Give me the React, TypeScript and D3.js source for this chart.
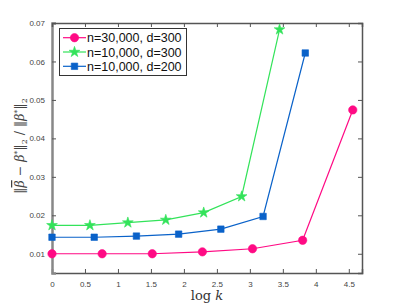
import React, { useEffect, useRef } from "react";
import * as d3 from "d3";

const seriesNames = ["n=30,000, d=300", "n=10,000, d=300", "n=10,000, d=200"];
const seriesColors = ["#ff0a84", "#33e35a", "#0a62c9"];
const seriesMarkers = ["circle", "star", "square"];

const xMagenta = [0, 0.76, 1.52, 2.28, 3.04, 3.8, 4.56];
const yMagenta = [0.01, 0.01, 0.01, 0.0105, 0.0113, 0.0135, 0.0474];
const xGreen = [0, 0.575, 1.15, 1.725, 2.3, 2.875, 3.45];
const yGreen = [0.0174, 0.0174, 0.0181, 0.0188, 0.0207, 0.0249, 0.0683];
const xBlue = [0, 0.64, 1.28, 1.92, 2.56, 3.2, 3.84];
const yBlue = [0.0143, 0.0143, 0.0146, 0.0151, 0.0164, 0.0197, 0.0622];

const xTicks = [0, 0.5, 1, 1.5, 2, 2.5, 3, 3.5, 4, 4.5];
const yTicks = [0.01, 0.02, 0.03, 0.04, 0.05, 0.06, 0.07];

const W = 399;
const H = 307;

export default function App() {
  const ref = useRef<SVGSVGElement>(null);

  useEffect(() => {
    if (!ref.current) return;
    const svg = d3.select(ref.current);
    svg.selectAll("*").remove();

    const m = { left: 52, right: 37, top: 23, bottom: 34 };
    const x = d3.scaleLinear().domain([0, 4.7]).range([m.left, W - m.right]);
    const y = d3.scaleLinear().domain([0.005, 0.07]).range([H - m.bottom, m.top]);

    svg.append("rect").attr("width", W).attr("height", H).attr("fill", "#fff");

    const axisColor = "#555";
    const fmt = (d: any) => String(d);

    // bottom / left with labels, top / right without
    const gx = svg.append("g").attr("transform", `translate(0,${H - m.bottom})`)
      .call(d3.axisBottom(x).tickValues(xTicks).tickSize(-4).tickPadding(8).tickFormat(fmt));
    const gy = svg.append("g").attr("transform", `translate(${m.left},0)`)
      .call(d3.axisLeft(y).tickValues(yTicks).tickSize(-4).tickPadding(7).tickFormat(fmt));
    const gt = svg.append("g").attr("transform", `translate(0,${m.top})`)
      .call(d3.axisTop(x).tickValues(xTicks).tickSize(-4).tickFormat(() => ""));
    const gr = svg.append("g").attr("transform", `translate(${W - m.right},0)`)
      .call(d3.axisRight(y).tickValues(yTicks).tickSize(-4).tickFormat(() => ""));

    [gx, gy, gt, gr].forEach((g) => {
      g.select(".domain").attr("stroke", axisColor).attr("stroke-width", 1.5);
      g.selectAll(".tick line").attr("stroke", axisColor);
      g.selectAll("text")
        .attr("fill", "#444")
        .attr("font-family", "Liberation Sans, Arial, sans-serif")
        .attr("font-size", 8);
    });
    gy.select(".domain").attr("stroke-width", 2.5).attr("stroke", "#888");

    const data = [
      xMagenta.map((v, i) => [v, yMagenta[i]]),
      xGreen.map((v, i) => [v, yGreen[i]]),
      xBlue.map((v, i) => [v, yBlue[i]]),
    ] as [number, number][][];

    const line = d3.line<[number, number]>().x((d) => x(d[0])).y((d) => y(d[1]));
    const sym: Record<string, any> = {
      circle: { type: d3.symbolCircle, size: 55 },
      star: { type: d3.symbolStar, size: 36 },
      square: { type: d3.symbolSquare, size: 42 },
    };

    data.forEach((pts, k) => {
      const c = seriesColors[k];
      svg.append("path").datum(pts).attr("fill", "none").attr("stroke", c)
        .attr("stroke-width", 1.2).attr("d", line);
      const s = sym[seriesMarkers[k]];
      svg.selectAll(null).data(pts).enter().append("path")
        .attr("transform", (d) => `translate(${x(d[0])},${y(d[1])})`)
        .attr("d", d3.symbol().type(s.type).size(s.size)())
        .attr("fill", c).attr("stroke", c).attr("stroke-width", 0.6);
    });

    // legend
    const lg = svg.append("g");
    lg.append("rect").attr("x", 59.5).attr("y", 28.5).attr("width", 127).attr("height", 47)
      .attr("fill", "#fff").attr("stroke", "#333").attr("stroke-width", 1);
    seriesNames.forEach((name, k) => {
      const yy = 37.7 + k * 14.3;
      const c = seriesColors[k];
      lg.append("line").attr("x1", 63).attr("x2", 86).attr("y1", yy).attr("y2", yy)
        .attr("stroke", c).attr("stroke-width", 1.2);
      const s = sym[seriesMarkers[k]];
      lg.append("path").attr("transform", `translate(74.5,${yy})`)
        .attr("d", d3.symbol().type(s.type).size(s.size)())
        .attr("fill", c).attr("stroke", c).attr("stroke-width", 0.6);
      lg.append("text").attr("x", 87).attr("y", yy + 4.5).text(name)
        .attr("font-family", "Liberation Sans, Arial, sans-serif").attr("font-size", 12.5)
        .attr("fill", "#111");
    });

    // x label
    const xl = svg.append("text").attr("x", (m.left + W - m.right) / 2).attr("y", 300)
      .attr("text-anchor", "middle").attr("font-family", "DejaVu Serif, serif")
      .attr("font-size", 13).attr("fill", "#333");
    xl.append("tspan").text("log ");
    xl.append("tspan").attr("font-style", "italic").text("k");

    // y label
    const yl = svg.append("text").attr("transform", `translate(24,146) rotate(-90)`)
      .attr("text-anchor", "middle").attr("font-family", "DejaVu Serif, serif")
      .attr("font-size", 12.5).attr("fill", "#444");
    yl.append("tspan").text("\u2016");
    yl.append("tspan").attr("font-style", "italic").attr("text-decoration", "overline").text("\u03B2");
    yl.append("tspan").text(" \u2212 ");
    yl.append("tspan").attr("font-style", "italic").text("\u03B2");
    yl.append("tspan").attr("font-size", 8).attr("dy", -4).text("*");
    yl.append("tspan").attr("dy", 4).text("\u2016");
    yl.append("tspan").attr("font-size", 8).attr("dy", 3).text("2");
    yl.append("tspan").attr("dy", -3).text(" / \u2016");
    yl.append("tspan").attr("font-style", "italic").text("\u03B2");
    yl.append("tspan").attr("font-size", 8).attr("dy", -4).text("*");
    yl.append("tspan").attr("dy", 4).text("\u2016");
    yl.append("tspan").attr("font-size", 8).attr("dy", 3).text("2");
  }, []);

  return (
    <svg ref={ref} width={W} height={H} style={{ position: "absolute", left: 0, top: 0 }} />
  );
}
